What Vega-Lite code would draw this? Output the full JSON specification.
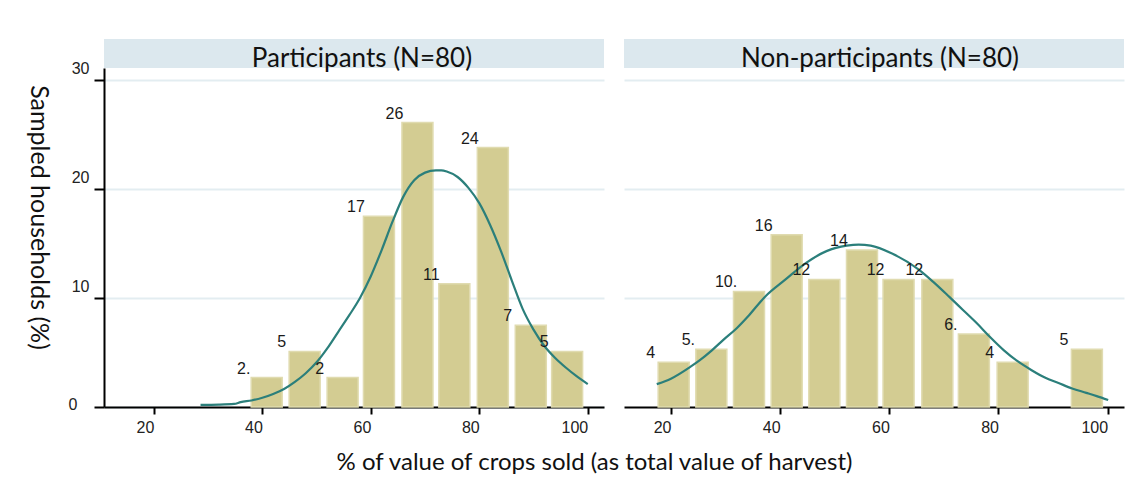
{
  "$schema": "https://vega.github.io/schema/vega-lite/v6.json",
  "background": "white",
  "padding": {"left": 25, "top": 39, "right": 5, "bottom": 5},
  "config": {"view": {"stroke": null}, "font": "Lato"},
  "datasets": {
    "headers": [
      {"panel": "Participants", "title": "Participants (N=80)"},
      {"panel": "Non-participants", "title": "Non-participants (N=80)"}
    ],
    "bars": [
      {"panel": "Participants", "mid": 40.8, "pct": 2.7, "label": "2."},
      {"panel": "Participants", "mid": 47.8, "pct": 5.1, "label": "5"},
      {"panel": "Participants", "mid": 54.8, "pct": 2.7, "label": "2"},
      {"panel": "Participants", "mid": 61.5, "pct": 17.5, "label": "17"},
      {"panel": "Participants", "mid": 68.6, "pct": 26.1, "label": "26"},
      {"panel": "Participants", "mid": 75.4, "pct": 11.3, "label": "11"},
      {"panel": "Participants", "mid": 82.5, "pct": 23.8, "label": "24"},
      {"panel": "Participants", "mid": 89.5, "pct": 7.5, "label": "7"},
      {"panel": "Participants", "mid": 96.2, "pct": 5.1, "label": "5"},
      {"panel": "Non-participants", "mid": 20.5, "pct": 4.1, "label": "4"},
      {"panel": "Non-participants", "mid": 27.4, "pct": 5.3, "label": "5."},
      {"panel": "Non-participants", "mid": 34.3, "pct": 10.6, "label": "10."},
      {"panel": "Non-participants", "mid": 41.2, "pct": 15.8, "label": "16"},
      {"panel": "Non-participants", "mid": 48.1, "pct": 11.7, "label": "12"},
      {"panel": "Non-participants", "mid": 55.0, "pct": 14.4, "label": "14"},
      {"panel": "Non-participants", "mid": 61.7, "pct": 11.7, "label": "12"},
      {"panel": "Non-participants", "mid": 68.8, "pct": 11.7, "label": "12"},
      {"panel": "Non-participants", "mid": 75.5, "pct": 6.7, "label": "6."},
      {"panel": "Non-participants", "mid": 82.6, "pct": 4.1, "label": "4"},
      {"panel": "Non-participants", "mid": 96.2, "pct": 5.3, "label": "5"}
    ],
    "curve": [
      {"panel": "Participants", "x": 28.6, "y": 0.2},
      {"panel": "Participants", "x": 32, "y": 0.22},
      {"panel": "Participants", "x": 34.8, "y": 0.28},
      {"panel": "Participants", "x": 36, "y": 0.45},
      {"panel": "Participants", "x": 38, "y": 0.6},
      {"panel": "Participants", "x": 40, "y": 0.85},
      {"panel": "Participants", "x": 42, "y": 1.2},
      {"panel": "Participants", "x": 44, "y": 1.65},
      {"panel": "Participants", "x": 46, "y": 2.3},
      {"panel": "Participants", "x": 48, "y": 3.1},
      {"panel": "Participants", "x": 50, "y": 4.1},
      {"panel": "Participants", "x": 52, "y": 5.4},
      {"panel": "Participants", "x": 54, "y": 6.9},
      {"panel": "Participants", "x": 56, "y": 8.4},
      {"panel": "Participants", "x": 58, "y": 10.0},
      {"panel": "Participants", "x": 60, "y": 12.0},
      {"panel": "Participants", "x": 62, "y": 14.4},
      {"panel": "Participants", "x": 64, "y": 17.0},
      {"panel": "Participants", "x": 66, "y": 19.3},
      {"panel": "Participants", "x": 68, "y": 20.8},
      {"panel": "Participants", "x": 70, "y": 21.5},
      {"panel": "Participants", "x": 72, "y": 21.7},
      {"panel": "Participants", "x": 73, "y": 21.7},
      {"panel": "Participants", "x": 74, "y": 21.6},
      {"panel": "Participants", "x": 76, "y": 21.1},
      {"panel": "Participants", "x": 78, "y": 20.1},
      {"panel": "Participants", "x": 80, "y": 18.7},
      {"panel": "Participants", "x": 82, "y": 16.7},
      {"panel": "Participants", "x": 84, "y": 14.3},
      {"panel": "Participants", "x": 86, "y": 11.6},
      {"panel": "Participants", "x": 88, "y": 9.0},
      {"panel": "Participants", "x": 90, "y": 7.1},
      {"panel": "Participants", "x": 92, "y": 5.6},
      {"panel": "Participants", "x": 94, "y": 4.5},
      {"panel": "Participants", "x": 96, "y": 3.6},
      {"panel": "Participants", "x": 98, "y": 2.8},
      {"panel": "Participants", "x": 100, "y": 2.1},
      {"panel": "Non-participants", "x": 17.4, "y": 2.1},
      {"panel": "Non-participants", "x": 20, "y": 2.6},
      {"panel": "Non-participants", "x": 23.6, "y": 3.7},
      {"panel": "Non-participants", "x": 25.3, "y": 4.3},
      {"panel": "Non-participants", "x": 27.5, "y": 5.2},
      {"panel": "Non-participants", "x": 29.7, "y": 6.2},
      {"panel": "Non-participants", "x": 32, "y": 7.2},
      {"panel": "Non-participants", "x": 34.1, "y": 8.3},
      {"panel": "Non-participants", "x": 37.2, "y": 10.1},
      {"panel": "Non-participants", "x": 41.0, "y": 11.7},
      {"panel": "Non-participants", "x": 44.7, "y": 13.2},
      {"panel": "Non-participants", "x": 48.5, "y": 14.3},
      {"panel": "Non-participants", "x": 52.2, "y": 14.8},
      {"panel": "Non-participants", "x": 54.4, "y": 14.9},
      {"panel": "Non-participants", "x": 56.6, "y": 14.8},
      {"panel": "Non-participants", "x": 60.4, "y": 14.1},
      {"panel": "Non-participants", "x": 65.4, "y": 12.6},
      {"panel": "Non-participants", "x": 68, "y": 11.5},
      {"panel": "Non-participants", "x": 71.0, "y": 10.1},
      {"panel": "Non-participants", "x": 73.5, "y": 8.9},
      {"panel": "Non-participants", "x": 76.0, "y": 7.7},
      {"panel": "Non-participants", "x": 78.5, "y": 6.4},
      {"panel": "Non-participants", "x": 81.0, "y": 5.2},
      {"panel": "Non-participants", "x": 83.5, "y": 4.2},
      {"panel": "Non-participants", "x": 86.0, "y": 3.4},
      {"panel": "Non-participants", "x": 88.5, "y": 2.7},
      {"panel": "Non-participants", "x": 91.0, "y": 2.2},
      {"panel": "Non-participants", "x": 93.5, "y": 1.7},
      {"panel": "Non-participants", "x": 96.1, "y": 1.3},
      {"panel": "Non-participants", "x": 98, "y": 1.0},
      {"panel": "Non-participants", "x": 100.1, "y": 0.64}
    ]
  },
  "title": {
    "text": "% of value of crops sold (as total value of harvest)",
    "orient": "bottom",
    "anchor": "middle",
    "font": "Lato",
    "fontSize": 24,
    "fontWeight": "normal",
    "color": "#111111",
    "offset": 16,
    "dx": 20
  },
  "spacing": 20,
  "hconcat": [
    {
      "spacing": 0,
      "bounds": "flush",
      "vconcat": [
        {
          "width": 500,
          "height": 29,
          "view": {"fill": "#dce8ee", "stroke": null},
          "data": {"name": "headers"},
          "transform": [{"filter": "datum.panel === 'Participants'"}],
          "mark": {"type": "text", "font": "Lato", "fontSize": 26, "baseline": "alphabetic", "dy": 13, "dx": 8, "color": "#111111"},
          "encoding": {"text": {"field": "title"}}
        },
        {
          "width": 500,
          "height": 339,
          "layer": [
            {
              "data": {"name": "bars"},
              "transform": [{"filter": "datum.panel === 'Participants'"}],
              "mark": {"type": "bar", "width": 31, "fill": "#d3cc92", "stroke": "#e0dbb0", "strokeWidth": 1.5},
              "encoding": {
                "x": {"field": "mid", "type": "quantitative", "scale": {"domain": [10.8, 103], "nice": false, "zero": false, "padding": 0},
                  "axis": {"values": [20, 40, 60, 80, 100], "title": null, "grid": false, "domainColor": "black", "domainWidth": 2, "tickColor": "black", "tickWidth": 2, "tickSize": 7, "labelFont": "Liberation Sans", "labelFontSize": 16, "labelColor": "#222222", "labelPadding": 5, "labelAlign": "right", "labelOffset": 0}},
                "y": {"field": "pct", "type": "quantitative", "scale": {"domain": [0, 31.1], "nice": false, "padding": 0},
                  "axis": {"values": [0, 10, 20, 30], "title": "Sampled households (%)", "titleFont": "Lato", "titleFontSize": 25, "titleFontWeight": "normal", "titleAngle": 90, "titleX": -66, "titleY": 149, "titleAlign": "center", "titleBaseline": "middle", "titleColor": "#111111",
                    "domainColor": "black", "domainWidth": 2, "tickColor": "black", "tickWidth": 2, "tickSize": 10,
                    "labelFont": "Liberation Sans", "labelFontSize": 16, "labelColor": "#222222", "labelBaseline": "middle",
                    "labelOffset": {"condition": {"test": "datum.value === 0", "value": -3}, "value": -11},
                    "labelPadding": {"condition": {"test": "datum.value === 0", "value": 17}, "value": 5},
                    "grid": true, "gridColor": "#e3edf1", "gridWidth": 2}}
              }
            },
            {
              "data": {"name": "curve"},
              "transform": [{"filter": "datum.panel === 'Participants'"}],
              "mark": {"type": "line", "color": "#2b7f7b", "strokeWidth": 2.2, "interpolate": "monotone"},
              "encoding": {"x": {"field": "x", "type": "quantitative"}, "y": {"field": "y", "type": "quantitative"}}
            },
            {
              "data": {"name": "bars"},
              "transform": [{"filter": "datum.panel === 'Participants'"}],
              "mark": {"type": "text", "dx": -23, "dy": -9, "fontSize": 16, "font": "Liberation Sans", "color": "#1a1a1a"},
              "encoding": {"x": {"field": "mid", "type": "quantitative"}, "y": {"field": "pct", "type": "quantitative"}, "text": {"field": "label"}}
            }
          ]
        }
      ]
    },
    {
      "spacing": 0,
      "bounds": "flush",
      "vconcat": [
        {
          "width": 500,
          "height": 29,
          "view": {"fill": "#dce8ee", "stroke": null},
          "data": {"name": "headers"},
          "transform": [{"filter": "datum.panel === 'Non-participants'"}],
          "mark": {"type": "text", "font": "Lato", "fontSize": 26, "baseline": "alphabetic", "dy": 13, "dx": 6, "color": "#111111"},
          "encoding": {"text": {"field": "title"}}
        },
        {
          "width": 500,
          "height": 339,
          "layer": [
            {
              "data": {"name": "bars"},
              "transform": [{"filter": "datum.panel === 'Non-participants'"}],
              "mark": {"type": "bar", "width": 31, "fill": "#d3cc92", "stroke": "#e0dbb0", "strokeWidth": 1.5},
              "encoding": {
                "x": {"field": "mid", "type": "quantitative", "scale": {"domain": [11.4, 103], "nice": false, "zero": false, "padding": 0},
                  "axis": {"values": [20, 40, 60, 80, 100], "title": null, "grid": false, "domainColor": "black", "domainWidth": 2, "tickColor": "black", "tickWidth": 2, "tickSize": 7, "labelFont": "Liberation Sans", "labelFontSize": 16, "labelColor": "#222222", "labelPadding": 5, "labelAlign": "right", "labelOffset": 0}},
                "y": {"field": "pct", "type": "quantitative", "scale": {"domain": [0, 31.1], "nice": false, "padding": 0},
                  "axis": {"values": [10, 20, 30], "title": null, "labels": false, "ticks": false, "domain": false, "grid": true, "gridColor": "#e3edf1", "gridWidth": 2}}
              }
            },
            {
              "data": {"name": "curve"},
              "transform": [{"filter": "datum.panel === 'Non-participants'"}],
              "mark": {"type": "line", "color": "#2b7f7b", "strokeWidth": 2.2, "interpolate": "monotone"},
              "encoding": {"x": {"field": "x", "type": "quantitative"}, "y": {"field": "y", "type": "quantitative"}}
            },
            {
              "data": {"name": "bars"},
              "transform": [{"filter": "datum.panel === 'Non-participants'"}],
              "mark": {"type": "text", "dx": -23, "dy": -9, "fontSize": 16, "font": "Liberation Sans", "color": "#1a1a1a"},
              "encoding": {"x": {"field": "mid", "type": "quantitative"}, "y": {"field": "pct", "type": "quantitative"}, "text": {"field": "label"}}
            }
          ]
        }
      ]
    }
  ]
}
